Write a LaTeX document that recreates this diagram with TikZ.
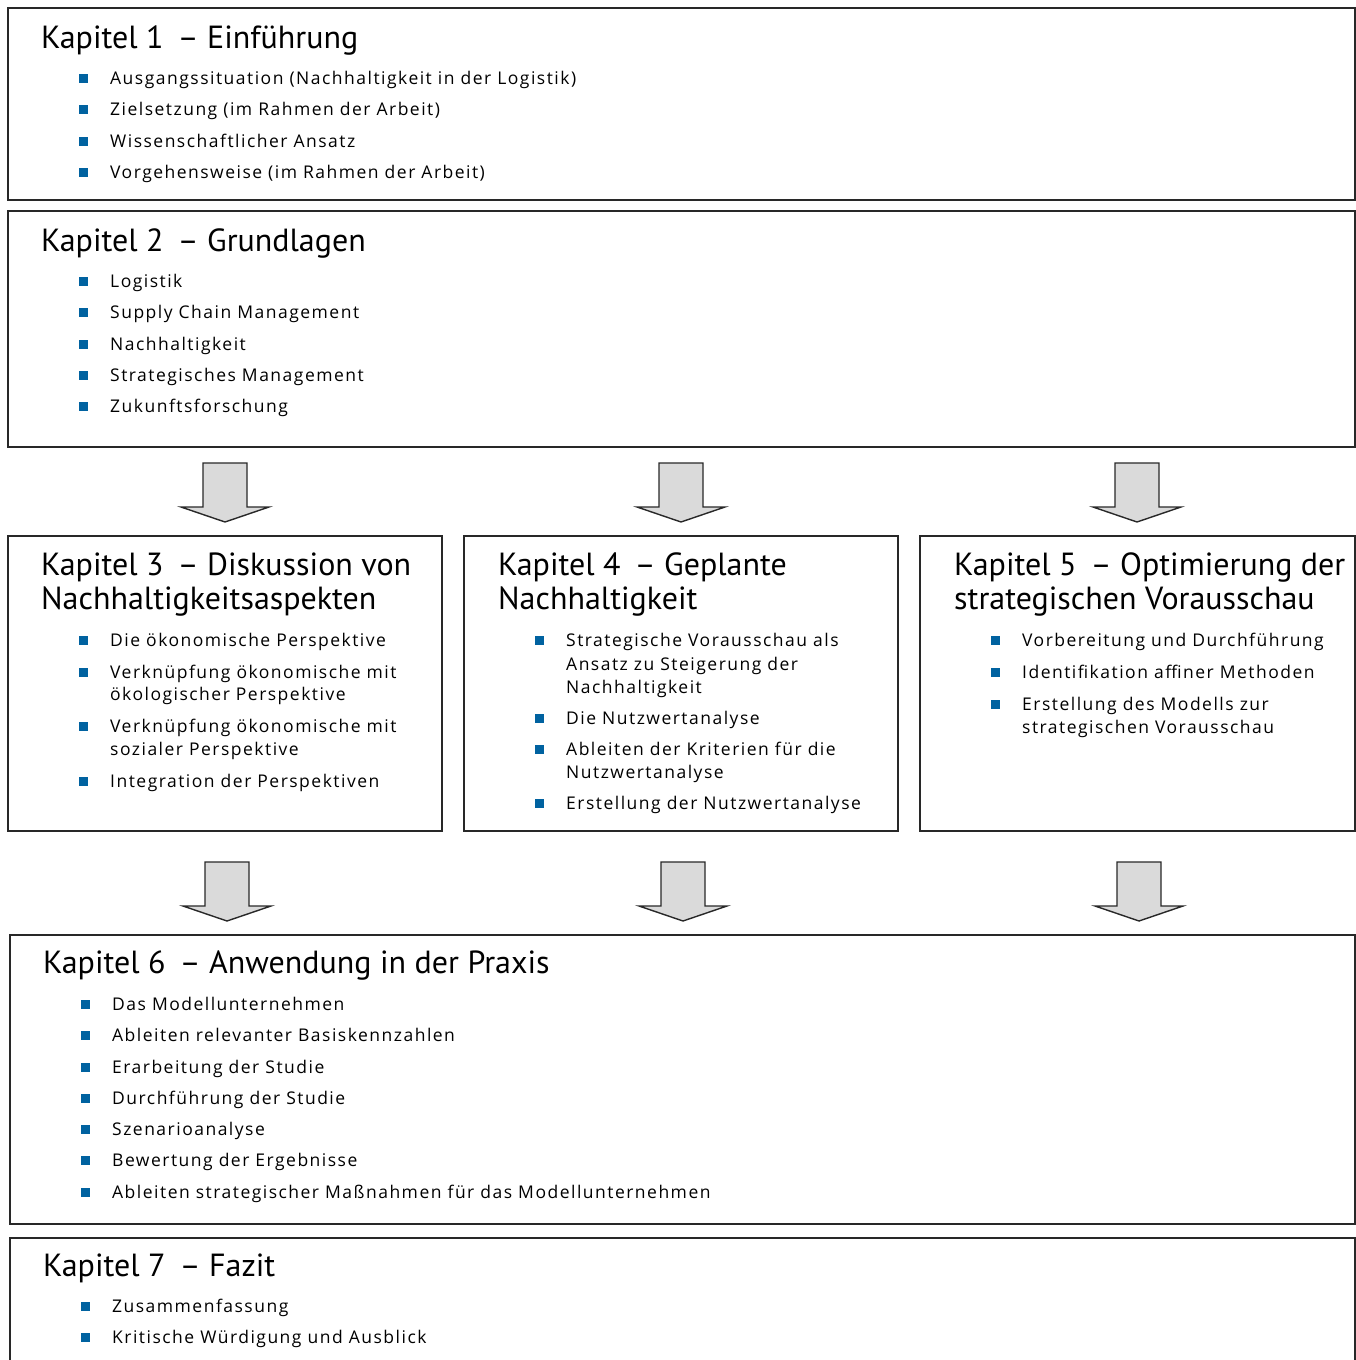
\documentclass[tikz,border=0pt]{standalone}
\usepackage{fontspec}
\setmainfont{PT Sans}
\newfontfamily\itmfont[LetterSpace=8.5]{Open Sans}
\definecolor{bulcol}{RGB}{0,98,160}
\definecolor{boxcol}{RGB}{40,40,40}
\definecolor{arrfill}{RGB}{218,218,218}
\newcommand\bsq[2]{\fill[bulcol] (#1-4.5,#2-10) rectangle ++(9,9);}
\newcommand\barrow[3]{\draw[arrstyle] (#1-22,#2) -- (#1+22,#2) -- (#1+22,#2+44) -- (#1+44,#2+44) -- (#1,#2+59) -- (#1-44,#2+44) -- (#1-22,#2+44) -- cycle;}
\begin{document}
\begin{tikzpicture}[x=1pt,y=-1pt,
  box/.style={draw=boxcol,line width=1.6pt},
  arrstyle/.style={draw=boxcol,fill=arrfill,line width=1.4pt,line join=miter},
  ttl/.style={anchor=base west,inner sep=0pt,font=\fontsize{32}{34}\selectfont,text=black},
  itm/.style={anchor=base west,inner sep=0pt,font=\itmfont\fontsize{17.5}{21}\selectfont,text=black}]
\useasboundingbox (0,0) rectangle (1356,1360);
% boxes
\draw[box] (8,8) rectangle (1355,200);
\draw[box] (8,211) rectangle (1355,447);
\draw[box] (8,536) rectangle (442,831);
\draw[box] (464,536) rectangle (898,831);
\draw[box] (920,536) rectangle (1355,831);
\draw[box] (10,935) rectangle (1355,1224);
\draw[box] (10,1365) -- (10,1238) -- (1355,1238) -- (1355,1365);
% arrows
\barrow{225}{463}{}
\barrow{681}{463}{}
\barrow{1137}{463}{}
\barrow{227}{862}{}
\barrow{683}{862}{}
\barrow{1139}{862}{}
% Kapitel 1
\node[ttl] (t1) at (41,48) {Kapitel 1 \,– Einführung};
\bsq{83}{84}\node[itm] (i11) at (110,84) {Ausgangssituation (Nachhaltigkeit in der Logistik)};
\bsq{83}{115}\node[itm] (i12) at (110,115) {Zielsetzung (im Rahmen der Arbeit)};
\bsq{83}{147}\node[itm] (i13) at (110,147) {Wissenschaftlicher Ansatz};
\bsq{83}{178}\node[itm] (i14) at (110,178) {Vorgehensweise (im Rahmen der Arbeit)};
% Kapitel 2
\node[ttl] (t2) at (41,251) {Kapitel 2 \,– Grundlagen};
\bsq{83}{287}\node[itm] (i21) at (110,287) {Logistik};
\bsq{83}{318}\node[itm] (i22) at (110,318) {Supply Chain Management};
\bsq{83}{350}\node[itm] (i23) at (110,350) {Nachhaltigkeit};
\bsq{83}{381}\node[itm] (i24) at (110,381) {Strategisches Management};
\bsq{83}{412}\node[itm] (i25) at (110,412) {Zukunftsforschung};
% Kapitel 3
\node[ttl] (t3a) at (41,575) {Kapitel 3 \,– Diskussion von};
\node[ttl] (t3b) at (41,609) {Nachhaltigkeitsaspekten};
\bsq{83}{646}\node[itm] (i31) at (110,646) {Die ökonomische Perspektive};
\bsq{83}{678}\node[itm] (i32a) at (110,678) {Verknüpfung ökonomische mit};
\node[itm] (i32b) at (110,700) {ökologischer Perspektive};
\bsq{83}{732}\node[itm] (i33a) at (110,732) {Verknüpfung ökonomische mit};
\node[itm] (i33b) at (110,755) {sozialer Perspektive};
\bsq{83}{787}\node[itm] (i34) at (110,787) {Integration der Perspektiven};
% Kapitel 4
\node[ttl] (t4a) at (498,575) {Kapitel 4 \,– Geplante};
\node[ttl] (t4b) at (498,609) {Nachhaltigkeit};
\bsq{539}{646}\node[itm] (i41a) at (566,646) {Strategische Vorausschau als};
\node[itm] (i41b) at (566,670) {Ansatz zu Steigerung der};
\node[itm] (i41c) at (566,693) {Nachhaltigkeit};
\bsq{539}{724}\node[itm] (i42) at (566,724) {Die Nutzwertanalyse};
\bsq{539}{755}\node[itm] (i43a) at (566,755) {Ableiten der Kriterien für die};
\node[itm] (i43b) at (566,778) {Nutzwertanalyse};
\bsq{539}{809}\node[itm] (i44) at (566,809) {Erstellung der Nutzwertanalyse};
% Kapitel 5
\node[ttl] (t5a) at (954,575) {Kapitel 5 \,– Optimierung der};
\node[ttl] (t5b) at (954,609) {strategischen Vorausschau};
\bsq{995}{646}\node[itm] (i51) at (1022,646) {Vorbereitung und Durchführung};
\bsq{995}{678}\node[itm] (i52) at (1022,678) {Identifikation affiner Methoden};
\bsq{995}{710}\node[itm] (i53a) at (1022,710) {Erstellung des Modells zur};
\node[itm] (i53b) at (1022,733) {strategischen Vorausschau};
% Kapitel 6
\node[ttl] (t6) at (43,973) {Kapitel 6 \,– Anwendung in der Praxis};
\bsq{85}{1010}\node[itm] (i61) at (112,1010) {Das Modellunternehmen};
\bsq{85}{1041}\node[itm] (i62) at (112,1041) {Ableiten relevanter Basiskennzahlen};
\bsq{85}{1073}\node[itm] (i63) at (112,1073) {Erarbeitung der Studie};
\bsq{85}{1104}\node[itm] (i64) at (112,1104) {Durchführung der Studie};
\bsq{85}{1135}\node[itm] (i65) at (112,1135) {Szenarioanalyse};
\bsq{85}{1166}\node[itm] (i66) at (112,1166) {Bewertung der Ergebnisse};
\bsq{85}{1198}\node[itm] (i67) at (112,1198) {Ableiten strategischer Maßnahmen für das Modellunternehmen};
% Kapitel 7
\node[ttl] (t7) at (43,1276) {Kapitel 7 \,– Fazit};
\bsq{85}{1312}\node[itm] (i71) at (112,1312) {Zusammenfassung};
\bsq{85}{1343}\node[itm] (i72) at (112,1343) {Kritische Würdigung und Ausblick};
\end{tikzpicture}
\end{document}
